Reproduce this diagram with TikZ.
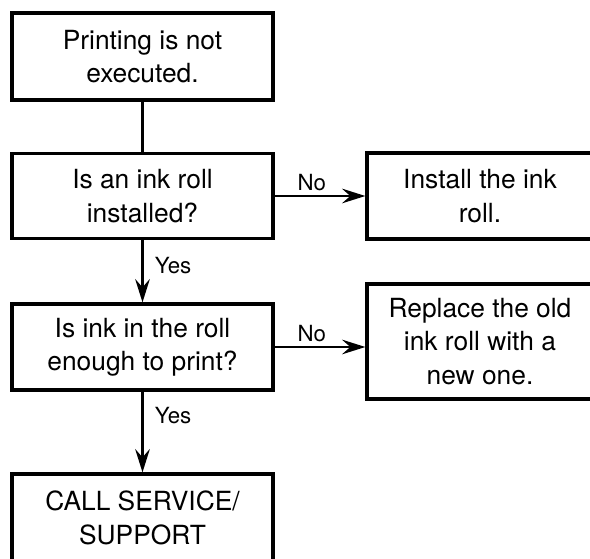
\documentclass[tikz,border=0pt]{standalone}
\usepackage{fontspec}
\setmainfont{TeX Gyre Heros}
\usetikzlibrary{arrows.meta}

\tikzset{
  kasten/.style={draw,line width=2.8pt,align=center,inner sep=2pt,
    font=\fontsize{22.5}{28.5}\selectfont},
  pfeil/.style={line width=2.1pt,-{Stealth[length=7mm,width=4.4mm,inset=2.5mm]}},
  marke/.style={font=\fontsize{19}{22}\selectfont}
}

\begin{document}
\begin{tikzpicture}[x=1cm,y=1cm]
        \useasboundingbox (0,0) rectangle (17.7,16.74);

        % Linke Spalte
        \node[kasten,minimum width=7.83cm,minimum height=2.61cm] (start) at (4.275,15.045) {Printing is not\\executed.};
        \node[kasten,minimum width=7.83cm,minimum height=2.55cm] (rolle) at (4.275,10.86) {Is an ink roll\\installed?};
        \node[kasten,minimum width=7.83cm,minimum height=2.58cm] (tinte) at (4.275,6.33) {Is ink in the roll\\enough to print?};
        \node[kasten,minimum width=7.83cm,minimum height=2.64cm] (service) at (4.275,1.2) {CALL SERVICE/\\SUPPORT};

        % Rechte Spalte
        \node[kasten,minimum width=6.78cm,minimum height=2.58cm] (einsetzen) at (14.4,10.86) {Install the ink\\roll.};
        \node[kasten,minimum width=6.78cm,minimum height=3.45cm] (ersetzen) at (14.4,6.495) {Replace the old\\ink roll with a\\new one.};

        % Verbindungen
        \draw[line width=2.1pt] (start) -- (rolle);
        \draw[pfeil] (rolle) -- node[marke,pos=0.41,right=0.22cm] {Yes} (tinte);
        \draw[pfeil] (tinte) -- node[marke,pos=0.3,right=0.22cm] {Yes} (service);
        \draw[pfeil] (rolle) -- node[marke,pos=0.41,above] {No} (einsetzen);
        \draw[pfeil] (tinte.east) -- node[marke,pos=0.41,above] {No} (tinte.east -| ersetzen.west);
      \end{tikzpicture}
\end{document}
